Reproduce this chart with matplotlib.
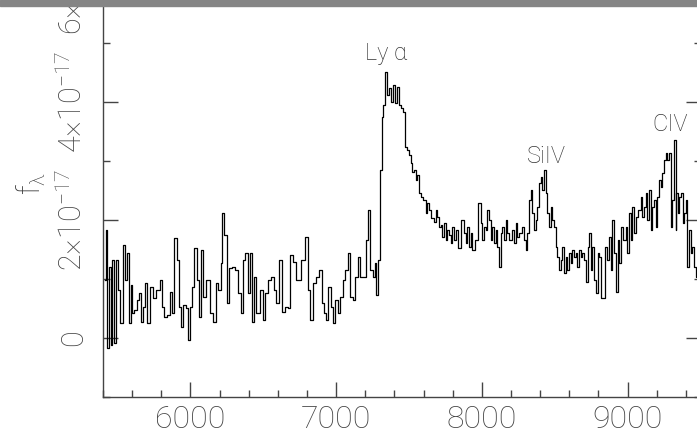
import numpy as np
import matplotlib
matplotlib.use('Agg')
import matplotlib.pyplot as plt
from matplotlib.ticker import MultipleLocator
from matplotlib.patches import Rectangle

# spectrum: wavelength (A) and flux (units of 1e-17)
wave_blue = [5412, 5423, 5434, 5451, 5460, 5469, 5480, 5496, 5510, 5526,
             5542, 5561, 5572, 5583, 5595, 5606, 5624, 5640, 5652, 5664,
             5679, 5698, 5709, 5732, 5755, 5778, 5801, 5812, 5828, 5846,
             5870, 5880, 5894, 5915, 5927, 5938, 5961, 5977, 5990, 6007,
             6018, 6036, 6052, 6064, 6076, 6098, 6121, 6144, 6167, 6179,
             6201, 6213, 6224, 6242, 6258, 6275, 6292, 6316, 6338, 6357,
             6368, 6384, 6400, 6412, 6426, 6441, 6464, 6487, 6503, 6522,
             6544, 6567, 6579, 6595, 6625, 6636, 6659, 6677, 6693, 6716,
             6732, 6750, 6773, 6796, 6814, 6831, 6853, 6876, 6892, 6910,
             6922, 6938, 6956, 6968, 6984, 7002, 7020, 7037, 7052, 7071,
             7089, 7105, 7121, 7140, 7157, 7174, 7197, 7208, 7226, 7243,
             7258, 7272, 7281, 7295]
flux_blue = [0.98, 1.83, -0.17, 1.21, -0.12, 1.32, -0.09, 1.32, 0.81, 0.25,
             1.58, 0.98, 1.44, 0.25, 0.90, 0.42, 0.47, 0.64, 0.76, 0.27,
             0.53, 0.93, 0.25, 0.86, 0.68, 0.81, 0.98, 0.53, 0.36, 0.39,
             0.78, 0.42, 1.69, 1.32, 0.53, 0.19, 0.56, 0.51, -0.03, 0.53,
             0.86, 1.53, 0.98, 0.36, 1.49, 0.69, 0.98, 0.42, 0.27, 0.93,
             0.81, 1.27, 2.12, 1.75, 0.59, 1.19, 1.20, 1.15, 0.76, 0.42,
             1.32, 1.44, 0.76, 1.44, 0.27, 1.03, 0.42, 0.81, 0.31, 0.76,
             0.98, 1.03, 0.81, 0.59, 1.32, 0.44, 0.53, 0.51, 1.41, 1.29,
             0.98, 0.98, 1.32, 1.71, 0.81, 0.31, 0.93, 1.03, 1.15, 0.59,
             0.42, 0.31, 0.86, 0.53, 0.25, 0.64, 0.42, 0.69, 0.98, 1.15,
             1.44, 0.69, 0.64, 1.03, 1.37, 1.03, 1.03, 1.66, 2.17, 1.15,
             1.03, 1.27, 0.73, 1.32]

wave_red = [7306, 7317, 7327, 7341, 7354, 7368, 7387, 7398, 7414, 7425,
            7437, 7449, 7471, 7478, 7494, 7506, 7517, 7528, 7540, 7552,
            7563, 7574, 7586, 7609, 7620, 7631, 7643, 7665, 7677, 7689,
            7700, 7711, 7723, 7734, 7746, 7757, 7768, 7780, 7792, 7803,
            7814, 7826, 7849, 7871, 7883, 7895, 7906, 7917, 7929, 7940,
            7963, 7986, 7998, 8009, 8020, 8032, 8043, 8055, 8066, 8077,
            8089, 8101, 8112, 8123, 8135, 8146, 8158, 8169, 8180, 8192,
            8215, 8226, 8238, 8249, 8261, 8283, 8295, 8307, 8318, 8329,
            8341, 8352, 8364, 8375, 8386, 8398, 8410, 8421, 8432, 8444,
            8455, 8467, 8478, 8489, 8501, 8513, 8524, 8535, 8547, 8558,
            8570, 8581, 8592, 8604, 8616, 8627, 8638, 8650, 8661, 8673,
            8684, 8695, 8707, 8721, 8730, 8741, 8753, 8764, 8776, 8789,
            8798, 8810, 8830, 8856, 8867, 8879, 8890, 8901, 8913, 8927,
            8936, 8947, 8959, 8982, 8993, 9004, 9016, 9028, 9038, 9050,
            9062, 9084, 9096, 9107, 9119, 9130, 9141, 9153, 9165, 9176,
            9187, 9199, 9210, 9222, 9233, 9244, 9256, 9268, 9279, 9290,
            9302, 9311, 9325, 9332, 9338, 9347, 9359, 9371, 9382, 9393,
            9405, 9416, 9428, 9439, 9450, 9462, 9476, 9490]
flux_red = [2.85, 3.75, 3.95, 4.51, 4.12, 4.24, 4.00, 4.29, 3.98, 4.25,
            3.95, 3.90, 3.83, 3.24, 3.19, 3.10, 2.97, 2.81, 2.85, 2.68,
            2.76, 2.46, 2.39, 2.34, 2.12, 2.29, 2.17, 2.03, 1.97, 2.17,
            2.05, 1.88, 1.92, 1.71, 1.95, 1.66, 1.83, 1.75, 1.61, 1.88,
            1.66, 1.83, 1.53, 2.00, 1.78, 1.61, 1.88, 1.54, 1.78, 1.49,
            1.66, 2.29, 1.95, 1.66, 1.88, 1.83, 2.17, 2.00, 1.66, 1.88,
            1.61, 1.83, 1.54, 1.20, 1.78, 1.88, 1.66, 2.00, 1.78, 1.66,
            1.83, 1.61, 1.95, 1.71, 1.78, 1.88, 1.66, 1.49, 1.78, 2.34,
            2.51, 2.12, 1.83, 2.00, 2.22, 2.63, 2.73, 2.51, 2.85, 2.46,
            2.12, 1.88, 2.22, 2.00, 1.88, 1.54, 1.37, 1.15, 1.32, 1.54,
            1.10, 1.37, 1.15, 1.44, 1.27, 1.49, 1.37, 1.44, 1.20, 1.49,
            1.37, 1.44, 1.32, 0.95, 1.54, 1.78, 1.15, 1.54, 0.98, 0.76,
            1.44, 1.37, 0.68, 1.54, 1.32, 1.71, 1.15, 2.00, 1.44, 0.78,
            1.66, 1.27, 1.88, 1.66, 1.88, 1.44, 2.12, 1.66, 2.22, 1.78,
            2.05, 2.17, 2.39, 2.05, 2.22, 2.46, 2.00, 2.51, 1.83, 2.22,
            2.34, 1.88, 2.39, 2.68, 2.56, 2.80, 3.02, 3.14, 3.02, 3.14,
            1.88, 2.34, 3.36, 1.83, 2.46, 2.12, 2.39, 2.46, 1.95, 2.12,
            2.34, 1.20, 1.83, 1.44, 1.54, 1.20, 1.03, 1.00]

line_names = ['Ly α', 'SiIV', 'CIV']
line_wave = [7197, 8309, 9167]
line_flux = [4.71, 2.97, 3.51]

ytick_vals = [0, 2, 4, 6]
ytick_labels = ['0', '2×10$^{-17}$', '4×10$^{-17}$', '6×10$^{-17}$']

plt.rcParams['font.family'] = ['Roboto', 'DejaVu Sans']
plt.rcParams['font.weight'] = 'light'
plt.rcParams['mathtext.default'] = 'regular'

wave = np.array(wave_blue + wave_red)
flux = np.array(flux_blue + flux_red)

fig = plt.figure(figsize=(6.97, 4.37), dpi=100)
ax = fig.add_axes([103/697, 40/437, 597.5/697, 424.8/437])
ax.plot(wave, flux, drawstyle='steps-mid', color='k', lw=0.9)

ax.set_xlim(5400, 9500)
ax.set_ylim(-1, 6.2)
ax.xaxis.set_major_locator(MultipleLocator(1000))
ax.xaxis.set_minor_locator(MultipleLocator(200))
ax.set_yticks(ytick_vals)
ax.set_yticklabels(ytick_labels, rotation=90, va='center')
ax.yaxis.set_minor_locator(MultipleLocator(1))

ax.tick_params(which='both', direction='in', top=True, right=True,
               color='#444444', labelcolor='#444444', width=1)
ax.tick_params(which='major', length=11)
ax.tick_params(which='minor', length=5)
ax.tick_params(axis='x', labelsize=23, pad=6)
ax.tick_params(axis='y', labelsize=22, pad=11)
for s in ax.spines.values():
    s.set_color('#444444')
    s.set_linewidth(1)

for name, lw_, lf in zip(line_names, line_wave, line_flux):
    ax.text(lw_, lf, name, fontsize=17, color='#333333', ha='left', va='baseline')

fig.text(31/697, 1 - 183/437, r'$f_\lambda$', rotation=90, fontsize=22,
         color='#333333', ha='center', va='center')

# grey strip along the top edge
fig.add_artist(Rectangle((0, 1 - 6/437), 1, 6/437, transform=fig.transFigure,
                         color='#858585', zorder=10))

fig.savefig('out.png', dpi=100)
